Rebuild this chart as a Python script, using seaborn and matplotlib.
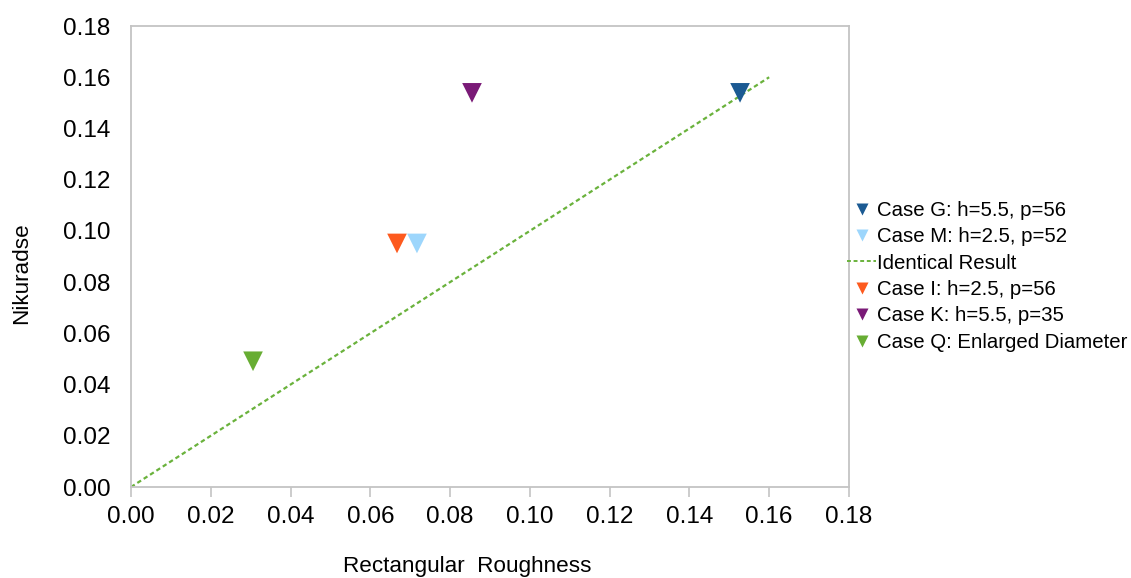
import pandas as pd
import matplotlib
matplotlib.use("Agg")
import matplotlib.pyplot as plt
import seaborn as sns
from matplotlib.lines import Line2D

cases = ["Case G: h=5.5, p=56", "Case M: h=2.5, p=52", "Case I: h=2.5, p=56",
         "Case K: h=5.5, p=35", "Case Q: Enlarged Diameter"]
rect_rough = [0.1527, 0.0717, 0.0667, 0.0855, 0.0306]
nikuradse = [0.1539, 0.0951, 0.0951, 0.1539, 0.0491]
colors = ["#1b5a93", "#9dd6fc", "#fd5a1e", "#7a1a77", "#67ad33"]
identical_x = [0.0, 0.16]
identical_y = [0.0, 0.16]
ticks = [0.00, 0.02, 0.04, 0.06, 0.08, 0.10, 0.12, 0.14, 0.16, 0.18]

sns.set_style("white")
plt.rcParams['font.family'] = ['Liberation Sans', 'DejaVu Sans']
plt.rcParams['text.color'] = 'black'
plt.rcParams['axes.labelcolor'] = 'black'
plt.rcParams['xtick.labelcolor'] = 'black'
plt.rcParams['ytick.labelcolor'] = 'black'

df = pd.DataFrame({"case": cases, "x": rect_rough, "y": nikuradse})
pal = dict(zip(cases, colors))

fig = plt.figure(figsize=(11.31, 5.78), dpi=100)
ax = fig.add_axes([0.1158, 0.1574, 0.6348, 0.7976])

line_color = "#6ab23c"
sns.lineplot(x=identical_x, y=identical_y, ax=ax, color=line_color,
             linestyle=(0, (2, 1.4)), linewidth=1.6, zorder=2)
sns.scatterplot(data=df, x="x", y="y", hue="case", palette=pal, marker="v",
                s=200, edgecolor="none", ax=ax, legend=False, zorder=3)

ax.set_xlim(0, 0.18)
ax.set_ylim(0, 0.18)
ax.set_xticks(ticks)
ax.set_yticks(ticks)
ax.set_xticklabels([f"{t:.2f}" for t in ticks])
ax.set_yticklabels([f"{t:.2f}" for t in ticks])
ax.tick_params(axis="x", direction="out", length=7, width=1.2, color="#c4c4c4",
               labelsize=17.5, pad=7, bottom=True, labelcolor="black")
ax.tick_params(axis="y", length=0, labelsize=17.5, pad=15, labelcolor="black")
for sp in ax.spines.values():
    sp.set_color("#c4c4c4")
    sp.set_linewidth(1.3)
ax.grid(False)

ax.set_xlabel("Rectangular  Roughness", fontsize=16.2, labelpad=19.5, color="black")
ax.set_ylabel("Nikuradse", fontsize=16.2, labelpad=22, color="black")
# the original labels sit a bit off-centre
ax.xaxis.label.set_x(0.468)
ax.yaxis.label.set_y(0.465)

def tri(c):
    return Line2D([], [], marker="v", color=c, linestyle="none", markersize=9,
                  markeredgecolor="none")

handles = [tri(colors[0]), tri(colors[1]),
           Line2D([], [], color=line_color, linestyle=(0, (2, 1.4)), linewidth=1.4),
           tri(colors[2]), tri(colors[3]), tri(colors[4])]
labels = [cases[0], cases[1], "Identical Result", cases[2], cases[3], cases[4]]
leg = fig.legend(handles, labels, loc="center left", bbox_to_anchor=(0.742, 0.522),
                 frameon=False, fontsize=14.7, handlelength=1.4, handletextpad=0.05,
                 labelspacing=0.36, borderaxespad=0)
for t in leg.get_texts():
    t.set_color("black")

fig.savefig("out.png", dpi=100)
